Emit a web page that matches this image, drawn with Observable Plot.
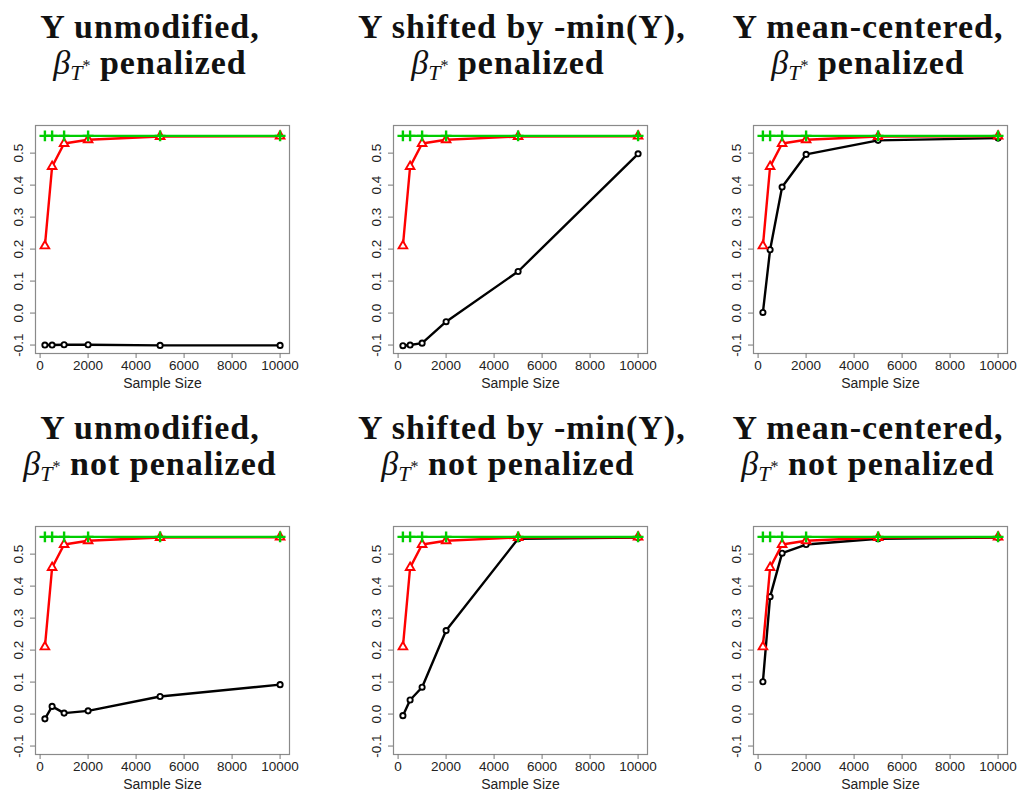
<!DOCTYPE html>
<html>
<head>
<meta charset="utf-8">
<script src="https://cdn.jsdelivr.net/npm/d3@7"></script>
<script src="https://cdn.jsdelivr.net/npm/@observablehq/plot@0.6"></script>
<style>
  html, body { margin: 0; padding: 0; background: #fff; }
  body { width: 1018px; height: 790px; overflow: hidden; position: relative; }
  .panel { position: absolute; width: 300px; }
  .title { position: absolute; left: 0; width: 300px; text-align: center; white-space: nowrap;
           font-family: "Liberation Serif", "Times New Roman", serif; font-weight: bold;
           font-size: 34px; letter-spacing: 1px; line-height: 36px; color: #111; }
  .m { font-style: italic; font-weight: normal; letter-spacing: 0; }
  .sub { position: relative; top: 6px; font-size: 22px; font-style: italic; font-weight: normal; letter-spacing: 0; }
  .star { position: relative; top: -9px; font-size: 16px; font-style: normal; font-weight: normal; }
  .plot { position: absolute; left: 0; }
</style>
</head>
<body>
<script>
// ---- data ----
const sampleSizes = [200, 500, 1000, 2000, 5000, 10000];
const greenValues = [0.554, 0.554, 0.554, 0.554, 0.554, 0.554];
const redValues   = [0.210, 0.458, 0.530, 0.542, 0.552, 0.553];
const blackUnmodPen     = [-0.100, -0.100, -0.099, -0.099, -0.101, -0.101];
const blackShiftPen     = [-0.102, -0.100, -0.094, -0.027, 0.130, 0.498];
const blackCenterPen    = [0.002, 0.198, 0.394, 0.496, 0.540, 0.547];
const blackUnmodNotPen  = [-0.015, 0.024, 0.003, 0.010, 0.055, 0.092];
const blackShiftNotPen  = [-0.005, 0.044, 0.084, 0.261, 0.548, 0.552];
const blackCenterNotPen = [0.101, 0.367, 0.503, 0.530, 0.548, 0.552];
const blackSeries = [blackUnmodPen, blackShiftPen, blackCenterPen, blackUnmodNotPen, blackShiftNotPen, blackCenterNotPen];
const titleLine1 = ["Y unmodified,", "Y shifted by -min(Y),", "Y mean-centered,"];
const titleLine2 = ["penalized", "not penalized"];
const xTicks = [0, 2000, 4000, 6000, 8000, 10000];
const yTicks = [-0.1, 0.0, 0.1, 0.2, 0.3, 0.4, 0.5];
const xLabel = "Sample Size";

// ---- layout ----
const colLeft = [0, 358, 718];
const rowTop = [0, 401];

function series(values) {
  return sampleSizes.map((n, i) => ({n, v: values[i]}));
}

for (let r = 0; r < 2; r++) {
  for (let c = 0; c < 3; c++) {
    const k = r * 3 + c;
    const panel = document.createElement("div");
    panel.className = "panel";
    panel.style.left = colLeft[c] + "px";
    panel.style.top = rowTop[r] + "px";

    const title = document.createElement("div");
    title.className = "title";
    title.style.top = "9px";
    title.style.left = "0px";
    title.innerHTML = `<div>${titleLine1[c]}</div><div><span class="m">β</span><span class="sub">T<span class="star">*</span></span>&nbsp;${titleLine2[r]}</div>`;
    panel.appendChild(title);

    const black = series(blackSeries[k]);
    const red = series(redValues);
    const green = series(greenValues);

    const chart = Plot.plot({
      width: 300,
      height: 288,
      marginLeft: 35,
      marginRight: 11,
      marginTop: 15,
      marginBottom: 45,
      x: {domain: [-192, 10392], label: null},
      y: {domain: [-0.1264, 0.5864], label: null},
      style: {fontFamily: "'Liberation Sans', Arial, Helvetica, sans-serif", fontSize: "13.5px", color: "#222", background: "white", overflow: "visible"},
      marks: [
        Plot.frame({stroke: "#8a8a8a", strokeWidth: 1.2}),
        Plot.axisX(xTicks, {tickSize: 5, tickPadding: 2, tickFormat: d => String(d), label: null, stroke: "#777", fontSize: 13.5}),
        Plot.axisY(yTicks, {tickSize: 5, tickFormat: () => "", label: null, stroke: "#777"}),
        Plot.text(yTicks, {y: d => d, frameAnchor: "left", dx: -17, rotate: -90, text: d => d.toFixed(1), textAnchor: "middle", lineAnchor: "middle", fontSize: 13.5, fill: "#222"}),
        Plot.text([xLabel], {frameAnchor: "bottom", dy: 30, text: d => d, lineAnchor: "middle", fontSize: 14, fill: "#222"}),
        Plot.line(black, {x: "n", y: "v", stroke: "black", strokeWidth: 2.4}),
        Plot.dot(black, {x: "n", y: "v", r: 2.6, stroke: "black", strokeWidth: 1.9, fill: "white"}),
        Plot.line(red, {x: "n", y: "v", stroke: "#ff0000", strokeWidth: 2.4}),
        Plot.dot(red, {x: "n", y: "v", symbol: "triangle", r: 3.2, stroke: "#ff0000", strokeWidth: 1.9, fill: "white"}),
        Plot.line(green, {x: "n", y: "v", stroke: "#00cd00", strokeWidth: 2.4}),
        Plot.dot(green, {x: "n", y: "v", symbol: "plus", r: 3.6, stroke: "#00cd00", strokeWidth: 2.4})
      ]
    });
    chart.classList.add("plot");
    chart.style.top = "110px";
    panel.appendChild(chart);
    document.body.appendChild(panel);
  }
}
</script>
</body>
</html>
